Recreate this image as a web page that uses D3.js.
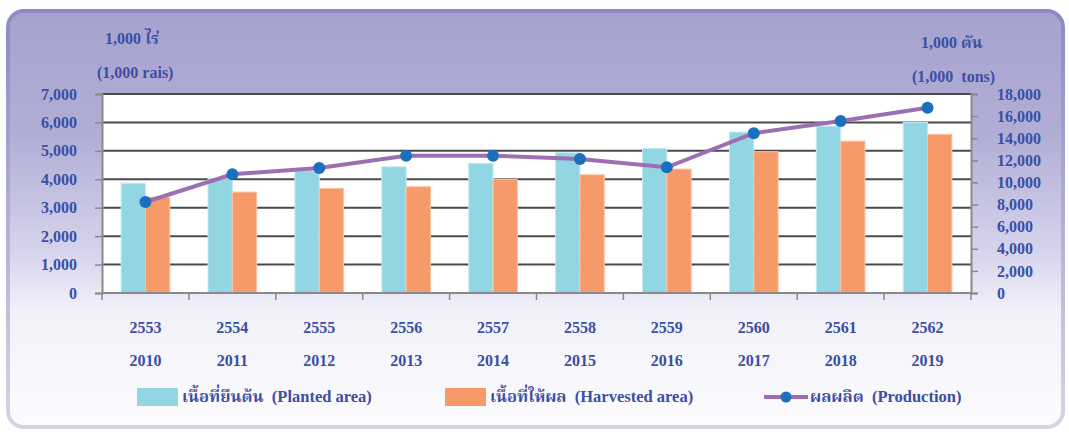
<!DOCTYPE html>
<html>
<head>
<meta charset="utf-8">
<script src="https://cdn.jsdelivr.net/npm/d3@7"></script>
<style>
  body { margin: 0; background: #fff; }
  svg text { font-family: "Liberation Serif", "Times New Roman", "Noto Serif Thai", "Noto Sans Thai", serif; font-weight: bold; fill: #3b4fa3; white-space: pre; }
</style>
</head>
<body>
<svg id="chart" width="1069" height="432"></svg>
<script>
// years (Thai BE / AD)
const yearsBE = ["2553", "2554", "2555", "2556", "2557", "2558", "2559", "2560", "2561", "2562"];
const yearsAD = ["2010", "2011", "2012", "2013", "2014", "2015", "2016", "2017", "2018", "2019"];

// 1,000 rais
const plantedArea = [3860, 4030, 4300, 4440, 4560, 4930, 5090, 5660, 5870, 6000];
const harvestedArea = [3370, 3550, 3680, 3740, 4000, 4160, 4360, 4970, 5340, 5580];
// 1,000 tons
const production = [8230, 10740, 11300, 12420, 12420, 12120, 11370, 14450, 15560, 16760];

const leftTicks = [0, 1000, 2000, 3000, 4000, 5000, 6000, 7000];
const rightTicks = [0, 2000, 4000, 6000, 8000, 10000, 12000, 14000, 16000, 18000];

const legendItems = [
  { label: "เนื้อที่ยืนต้น  (Planted area)", kind: "bar", color: "#92d5e3" },
  { label: "เนื้อที่ให้ผล  (Harvested area)", kind: "bar", color: "#f79a6a" },
  { label: "ผลผลิต  (Production)", kind: "line", color: "#9d6fb2" }
];

const svg = d3.select("#chart");
const plot = { left: 102, right: 971, top: 94, bottom: 293 };

// ---- background panel ----
const defs = svg.append("defs");
const bg = defs.append("linearGradient").attr("id", "bgGrad")
  .attr("x1", 0).attr("y1", 0).attr("x2", 0).attr("y2", 1);
bg.append("stop").attr("offset", "0%").attr("stop-color", "#a6a2cf");
bg.append("stop").attr("offset", "30%").attr("stop-color", "#b1aed6");
bg.append("stop").attr("offset", "58%").attr("stop-color", "#d6d4ec");
bg.append("stop").attr("offset", "72%").attr("stop-color", "#f1f1f9");
bg.append("stop").attr("offset", "100%").attr("stop-color", "#fcfcfe");

const edge = defs.append("linearGradient").attr("id", "edgeGrad")
  .attr("x1", 0).attr("y1", 0).attr("x2", 0).attr("y2", 1);
edge.append("stop").attr("offset", "0%").attr("stop-color", "#8d89c4");
edge.append("stop").attr("offset", "60%").attr("stop-color", "#b9b6dc");
edge.append("stop").attr("offset", "100%").attr("stop-color", "#d5d5e2");

svg.append("rect")
  .attr("x", 8).attr("y", 11).attr("width", 1055).attr("height", 416)
  .attr("rx", 16).attr("ry", 16)
  .attr("fill", "url(#bgGrad)")
  .attr("stroke", "url(#edgeGrad)").attr("stroke-width", 4);

// ---- scales ----
const x0 = d3.scaleBand().domain(yearsBE).range([plot.left, plot.right])
  .paddingInner(0.44).paddingOuter(0.22);
const x1 = d3.scaleBand().domain(["planted", "harvested"]).range([0, x0.bandwidth()]);
const yL = d3.scaleLinear().domain([0, 7000]).range([plot.bottom, plot.top]);
const yR = d3.scaleLinear().domain([0, 18000]).range([plot.bottom, plot.top]);

// plot area
svg.append("rect")
  .attr("x", plot.left).attr("y", plot.top)
  .attr("width", plot.right - plot.left).attr("height", plot.bottom - plot.top)
  .attr("fill", "#fff");

// gridlines
svg.append("g").selectAll("line")
  .data(leftTicks.filter(d => d > 0))
  .join("line")
  .attr("x1", plot.left).attr("x2", plot.right)
  .attr("y1", d => yL(d)).attr("y2", d => yL(d))
  .attr("stroke", "#4a4a4a").attr("stroke-width", 2);

// bars
const groups = svg.append("g").selectAll("g")
  .data(yearsBE)
  .join("g")
  .attr("transform", d => `translate(${x0(d)},0)`);

groups.append("rect")
  .attr("x", x1("planted"))
  .attr("y", (d, i) => yL(plantedArea[i]))
  .attr("width", x1.bandwidth())
  .attr("height", (d, i) => plot.bottom - yL(plantedArea[i]))
  .attr("fill", "#92d5e3").attr("stroke", "#c4eaf1").attr("stroke-width", 1);

groups.append("rect")
  .attr("x", x1("harvested"))
  .attr("y", (d, i) => yL(harvestedArea[i]))
  .attr("width", x1.bandwidth())
  .attr("height", (d, i) => plot.bottom - yL(harvestedArea[i]))
  .attr("fill", "#f79a6a").attr("stroke", "#fbc3a5").attr("stroke-width", 1);

// axes
const axisColor = "#8a8a8a";
const axisL = svg.append("g").attr("transform", `translate(${plot.left},0)`)
  .call(d3.axisLeft(yL).tickValues(leftTicks).tickSize(7).tickFormat(d3.format(",")));
const axisR = svg.append("g").attr("transform", `translate(${plot.right},0)`)
  .call(d3.axisRight(yR).tickValues(rightTicks).tickSize(7).tickFormat(d3.format(",")));
[axisL, axisR].forEach(a => {
  a.attr("font-family", null);
  a.select(".domain").attr("stroke", axisColor).attr("stroke-width", 2);
  a.selectAll(".tick line").attr("stroke", axisColor).attr("stroke-width", 1.5);
  a.selectAll(".tick text").attr("font-size", 16).attr("fill", "#3b4fa3");
});
axisL.selectAll(".tick text").attr("x", -25);
axisR.selectAll(".tick text").attr("x", 26);

// category axis with ticks between groups
const catTicks = d3.range(yearsBE.length + 1).map(i => plot.left + i * x0.step());
svg.append("line")
  .attr("x1", plot.left).attr("x2", plot.right)
  .attr("y1", plot.bottom).attr("y2", plot.bottom)
  .attr("stroke", axisColor).attr("stroke-width", 2);
svg.append("g").selectAll("line")
  .data(catTicks)
  .join("line")
  .attr("x1", d => d).attr("x2", d => d)
  .attr("y1", plot.bottom).attr("y2", plot.bottom + 7)
  .attr("stroke", axisColor).attr("stroke-width", 1.5);

// category labels
const catLabels = svg.append("g");
catLabels.selectAll("text.be")
  .data(yearsBE)
  .join("text").attr("class", "be")
  .attr("x", d => x0(d) + x0.bandwidth() / 2)
  .attr("y", 333)
  .attr("text-anchor", "middle").attr("font-size", 16)
  .text(d => d);
catLabels.selectAll("text.ad")
  .data(yearsAD)
  .join("text").attr("class", "ad")
  .attr("x", (d, i) => x0(yearsBE[i]) + x0.bandwidth() / 2)
  .attr("y", 366)
  .attr("text-anchor", "middle").attr("font-size", 16)
  .text(d => d);

// production line
const line = d3.line()
  .x((d, i) => x0(yearsBE[i]) + x0.bandwidth() / 2)
  .y(d => yR(d));
svg.append("path")
  .datum(production)
  .attr("d", line)
  .attr("fill", "none").attr("stroke", "#9d6fb2").attr("stroke-width", 4);
svg.append("g").selectAll("circle")
  .data(production)
  .join("circle")
  .attr("cx", (d, i) => x0(yearsBE[i]) + x0.bandwidth() / 2)
  .attr("cy", d => yR(d))
  .attr("r", 6)
  .attr("fill", "#1c6fbd");

// axis titles
svg.append("text").attr("x", 105).attr("y", 44).attr("font-size", 16).text("1,000 ไร่");
svg.append("text").attr("x", 97).attr("y", 78).attr("font-size", 16).text("(1,000 rais)");
svg.append("text").attr("x", 921).attr("y", 48).attr("font-size", 16).text("1,000 ตัน");
svg.append("text").attr("x", 912).attr("y", 82).attr("font-size", 16).text("(1,000  tons)");

// legend
const legendX = [137, 445, 764];
const leg = svg.append("g").selectAll("g")
  .data(legendItems)
  .join("g")
  .attr("transform", (d, i) => `translate(${legendX[i]},388)`);
leg.filter(d => d.kind === "bar").append("rect")
  .attr("width", 41).attr("height", 18)
  .attr("fill", d => d.color);
leg.filter(d => d.kind === "line").append("line")
  .attr("x1", 0).attr("x2", 44).attr("y1", 9).attr("y2", 9)
  .attr("stroke", d => d.color).attr("stroke-width", 4);
leg.filter(d => d.kind === "line").append("circle")
  .attr("cx", 22).attr("cy", 9).attr("r", 5.5).attr("fill", "#1c6fbd");
leg.append("text")
  .attr("x", d => d.kind === "line" ? 46 : 45)
  .attr("y", 14)
  .attr("font-size", 16.5)
  .text(d => d.label);
</script>
</body>
</html>
